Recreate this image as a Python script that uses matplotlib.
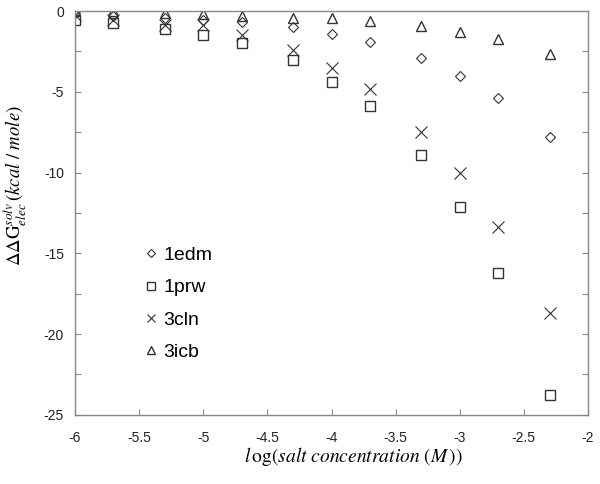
import numpy as np
import matplotlib.pyplot as plt
from matplotlib.ticker import MultipleLocator, FormatStrFormatter

plt.rcParams['mathtext.fontset'] = 'stix'
plt.rcParams['font.family'] = ['Liberation Sans', 'DejaVu Sans']
plt.rcParams['axes.unicode_minus'] = False

# log10 of salt concentration (M)
log_conc = [-6.0, -5.7, -5.3, -5.0, -4.7, -4.3, -4.0, -3.7, -3.3, -3.0, -2.7, -2.3]

# solvation free energy change (kcal/mole)
edm_1 = [-0.1, -0.3, -0.45, -0.55, -0.7, -1.0, -1.4, -1.9, -2.9, -4.0, -5.4, -7.8]
prw_1 = [-0.55, -0.75, -1.1, -1.5, -2.0, -3.0, -4.4, -5.9, -8.9, -12.1, -16.2, -23.8]
cln_3 = [-0.25, -0.55, -0.85, -0.85, -1.5, -2.4, -3.5, -4.85, -7.5, -10.0, -13.4, -18.7]
icb_3 = [0.0, 0.0, -0.1, -0.2, -0.3, -0.4, -0.45, -0.6, -0.93, -1.3, -1.7, -2.65]

series = ["1edm", "1prw", "3cln", "3icb"]

fig = plt.figure(figsize=(6, 4.84), dpi=100)
ax = fig.add_axes([0.125, 0.143, 0.855, 0.834])

col = "#333333"
ax.plot(log_conc, edm_1, ls="none", marker="D", ms=5, mfc="none", mec=col, mew=0.8, label=series[0])
ax.plot(log_conc, prw_1, ls="none", marker="s", ms=7, mfc="none", mec=col, mew=1.0, label=series[1])
ax.plot(log_conc, cln_3, ls="none", marker="x", ms=8, color=col, mew=0.8, label=series[2])
ax.plot(log_conc, icb_3, ls="none", marker="^", ms=7.5, mfc="none", mec=col, mew=1.0, label=series[3])

ax.set_xlim(-6, -2)
ax.set_ylim(-25, 0)
ax.xaxis.set_major_locator(MultipleLocator(0.5))
ax.xaxis.set_major_formatter(FormatStrFormatter("%g"))
ax.yaxis.set_major_locator(MultipleLocator(5))
ax.yaxis.set_minor_locator(MultipleLocator(2.5))
ax.tick_params(which="both", direction="in", length=4, width=0.8, color="#888888",
               labelsize=10, labelcolor="#222222", right=True, top=False)
ax.tick_params(axis="x", pad=12)
ax.tick_params(axis="y", pad=8)
for s in ax.spines.values():
    s.set_color("#888888")
    s.set_linewidth(1.0)

ax.set_xlabel(r"$l\,\mathrm{og(}salt\ concentration\ \mathrm{(}M\,\mathrm{))}$", fontsize=14)
ax.xaxis.set_label_coords(0.542, -0.075)
ax.set_ylabel(r"$\Delta\Delta\mathrm{G}^{solv}_{elec}\,\mathrm{(}kcal\ /\ mole\mathrm{)}$", fontsize=13.5)
ax.yaxis.set_label_coords(-0.09, 0.567)

ax.legend(loc="upper left", bbox_to_anchor=(0.117, 0.436), frameon=False, fontsize=14,
          handlelength=0.8, handletextpad=0.25, labelspacing=0.75, borderaxespad=0,
          markerscale=0.8)

fig.savefig("out.png", dpi=100)
